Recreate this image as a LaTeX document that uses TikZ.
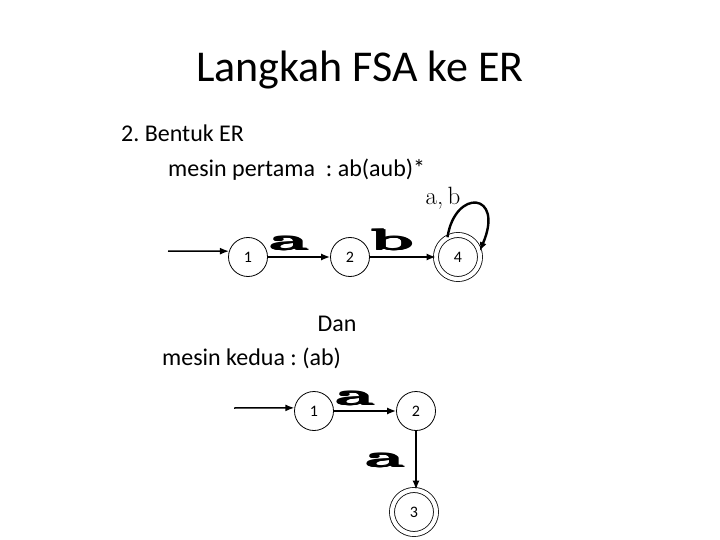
\documentclass[tikz,border=0pt]{standalone}
\usepackage{fontspec}
\usepackage{graphicx}
\newfontfamily\calibri{Carlito}
\newfontfamily\heavy{lmroman10-bold.otf}
\usetikzlibrary{arrows.meta}
\frenchspacing
\tikzset{
  st/.style={circle,draw,line width=0.8pt,minimum size=39pt,inner sep=0pt,font=\calibri\fontsize{16}{18}\selectfont},
  fin/.style={circle,draw,line width=0.8pt,double,double distance=4.2pt,minimum size=44pt,inner sep=0pt,font=\calibri\fontsize{16}{18}\selectfont},
  tr/.style={line width=1.5pt,-{Latex[length=9pt,width=7pt]}},
  lbl/.style={anchor=base,inner sep=0pt,font=\heavy\fontsize{30}{30}\selectfont},
  txt/.style={anchor=base west,inner sep=0pt,font=\calibri\fontsize{24}{28}\selectfont}
}
\newcommand{\thk}[1]{\rlap{#1}\rlap{\raisebox{0.5pt}{#1}}\rlap{\raisebox{-0.4pt}{#1}}\rlap{\kern0.4pt#1}\kern0.8pt#1}
\newcommand{\wide}[1]{\scalebox{2.3}[1]{\thk{#1}}}
\begin{document}
\begin{tikzpicture}[x=1pt,y=-1pt]
\useasboundingbox (0,0) rectangle (720,540);
\node[anchor=base,inner sep=0pt,font=\calibri\fontsize{44}{48}\selectfont] (title) at (360,82) {Langkah FSA ke ER};
\node[txt] (t1) at (121,142) {2. Bentuk ER};
\node[txt] (t2) at (168,177) {mesin pertama\ \ : ab(aub)*};
% machine 1
\node[st] (a1) at (248,257) {1};
\node[st] (a2) at (350,257) {2};
\node[fin] (a4) at (458,257) {4};
\coordinate (s1) at (168,251);
\draw[tr] (s1) -- (a1.163);
\draw[tr] (a1) -- (a2);
\draw[tr] (a2) -- (a4);
\draw[line width=2.4pt,-{Latex[length=9pt,width=7pt]}] (a4.118) .. controls (455,188) and (505,192) .. (a4.15);
\node[lbl] (la) at (289,250) {\wide{a}};
\node[lbl] (lb) at (392,250) {\wide{b}};
\node[anchor=base,inner sep=0pt,font=\fontsize{25}{26}\selectfont] (lab) at (443,205) {a,\,b};
% machine 2
\node[anchor=base,inner sep=0pt,font=\calibri\fontsize{24}{28}\selectfont] (dan) at (337,331) {Dan};
\node[txt] (t3) at (162,365) {mesin kedua : (ab)};
\node[st] (b1) at (314,411) {1};
\node[st] (b2) at (416,411) {2};
\node[fin] (b3) at (414,512) {3};
\coordinate (s2) at (234,408);
\draw[tr] (s2) -- (b1.171);
\draw[tr] (b1) -- (b2);
\draw[tr] (b2.south) -- (b2.south |- b3.north);
\node[lbl] (lc) at (355,405) {\wide{a}};
\node[lbl] (ld) at (385,467) {\wide{a}};
\end{tikzpicture}
\end{document}
